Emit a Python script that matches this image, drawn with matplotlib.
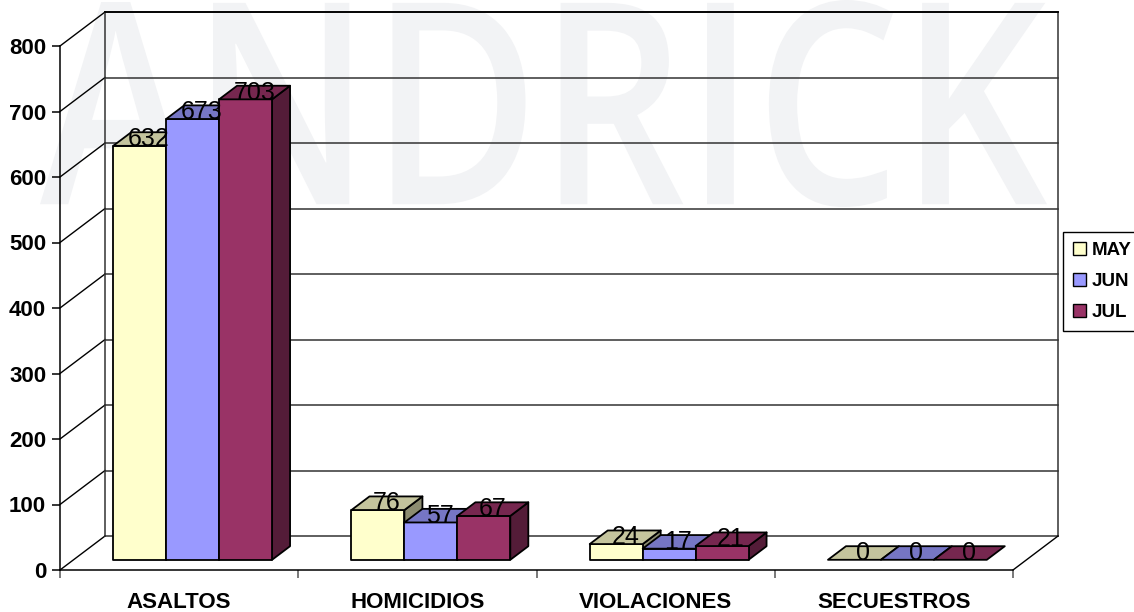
import matplotlib
matplotlib.use("Agg")
import matplotlib.pyplot as plt
import numpy as np
from matplotlib.patches import Polygon, PathPatch, Patch
from matplotlib.textpath import TextPath
from matplotlib.font_manager import FontProperties
from matplotlib.transforms import Affine2D
from matplotlib.colors import to_rgb

plt.rcParams['font.family'] = ['Liberation Sans', 'DejaVu Sans']

# ---------------- Data -----------------
categories = ['ASALTOS', 'HOMICIDIOS', 'VIOLACIONES', 'SECUESTROS']
months = ['MAY', 'JUN', 'JUL']
may = [632, 76, 24, 0]
jun = [673, 57, 17, 0]
jul = [703, 67, 21, 0]
series = [may, jun, jul]
face_colors = ['#FFFFCC', '#9999FF', '#993366']
yticks = np.arange(0, 801, 100)

# ---------------- 3D-ish geometry (data units) -----------------
DX, DY = 0.189, 51.9        # full depth offset: x in categories, y in values
bar_w = 1 / 4.5             # gap width 150%
d0, d1 = 0.3, 0.7           # bar depth range


def P(x, v, d):
    return (x + d * DX, v + d * DY)


def shade(c, f):
    return tuple(np.array(to_rgb(c)) * f)


def draw_bar(ax, x, h, color, z):
    kw = dict(edgecolor='black', linewidth=1.3, clip_on=False, joinstyle='round')
    if h > 0:
        front = [P(x, 0, d0), P(x + bar_w, 0, d0), P(x + bar_w, h, d0), P(x, h, d0)]
        side = [P(x + bar_w, 0, d0), P(x + bar_w, 0, d1), P(x + bar_w, h, d1), P(x + bar_w, h, d0)]
        ax.add_patch(Polygon(side, facecolor=shade(color, 0.55), zorder=z, **kw))
        ax.add_patch(Polygon(front, facecolor=color, zorder=z, **kw))
    top = [P(x, h, d0), P(x + bar_w, h, d0), P(x + bar_w, h, d1), P(x, h, d1)]
    ax.add_patch(Polygon(top, facecolor=shade(color, 0.77), zorder=z, **kw))


fig = plt.figure(figsize=(11.34, 6.12), dpi=100)
fig.patch.set_facecolor('white')

# watermark
fp = FontProperties(family='Open Sans', weight='semibold')
tp = TextPath((0, 0), 'ANDRICK', size=1, prop=fp)
ext = tp.get_extents()
sx = (1007 / 1134) / ext.width
sy = (207 / 612) / ext.height
wm_tr = Affine2D().translate(-ext.x0, -ext.y0).scale(sx, sy).translate(40 / 1134, 1 - 207 / 612) + fig.transFigure
fig.add_artist(PathPatch(tp, facecolor='#F2F3F5', edgecolor='none', transform=wm_tr, zorder=-1))

ax = fig.add_axes([60 / 1134, 42 / 612, 953 / 1134, 524 / 612])
ax.patch.set_visible(False)
ax.set_xlim(0, 4)
ax.set_ylim(0, 800)
for s in ['top', 'right']:
    ax.spines[s].set_visible(False)
for s in ['left', 'bottom']:
    ax.spines[s].set_linewidth(1.1)
    ax.spines[s].set_color('black')

ax.set_yticks(yticks)
ax.set_yticklabels([str(v) for v in yticks], fontsize=16, fontweight='bold')
ax.tick_params(axis='y', length=6, width=1.1, pad=4)
ax.set_xticks(np.arange(0, 5))
ax.set_xticklabels([''] * 5)
ax.tick_params(axis='x', which='major', length=6, width=1.1, color='#555555')
ax.set_xticks(np.arange(len(categories)) + 0.5, minor=True)
ax.set_xticklabels(categories, minor=True, fontsize=16, fontweight='bold')
ax.tick_params(axis='x', which='minor', length=0, pad=16)

# walls
n = len(categories)
wl = dict(color='#333333', linewidth=1.1, clip_on=False, zorder=1)
for v in yticks:
    a, b = P(0, v, 1), P(n, v, 1)
    ax.plot([a[0], b[0]], [a[1], b[1]], **wl)
    c = P(0, v, 0)
    ax.plot([c[0], a[0]], [c[1], a[1]], color='black', linewidth=1.0, clip_on=False, zorder=1)
for xx in [0, n]:
    a, b = P(xx, 0, 1), P(xx, yticks[-1], 1)
    ax.plot([a[0], b[0]], [a[1], b[1]], **wl)
a, b = P(n, 0, 0), P(n, 0, 1)
ax.plot([a[0], b[0]], [a[1], b[1]], color='black', linewidth=1.0, clip_on=False, zorder=1)
a, b = P(0, yticks[-1], 1), P(n, yticks[-1], 1)
ax.plot([a[0], b[0]], [a[1], b[1]], color='black', linewidth=1.3, clip_on=False, zorder=1)

# bars
z = 2
for i in range(n):
    for j, vals in enumerate(series):
        x = i + 0.75 * bar_w + j * bar_w
        draw_bar(ax, x, vals[i], face_colors[j], z)
        z += 1

# value labels
for i in range(n):
    for j, vals in enumerate(series):
        x = i + 0.75 * bar_w + j * bar_w
        lx, ly = P(x + bar_w / 2, vals[i], (d0 + d1) / 2)
        ax.text(lx, ly, str(vals[i]), ha='center', va='center', fontsize=18,
                color='black', zorder=50, clip_on=False)

handles = [Patch(facecolor=c, edgecolor='black', label=m) for c, m in zip(face_colors, months)]
leg = ax.legend(handles=handles, loc='upper left', bbox_to_anchor=(1063 / 1134, 1 - 232 / 612),
                bbox_transform=fig.transFigure, frameon=True, fancybox=False, framealpha=1,
                edgecolor='black', prop=dict(weight='bold', size=13.5), handlelength=0.7,
                handleheight=0.7, handletextpad=0.3, labelspacing=0.72, borderpad=0.55,
                borderaxespad=0)
leg.get_frame().set_linewidth(1.0)

fig.savefig('out.png', dpi=100)
